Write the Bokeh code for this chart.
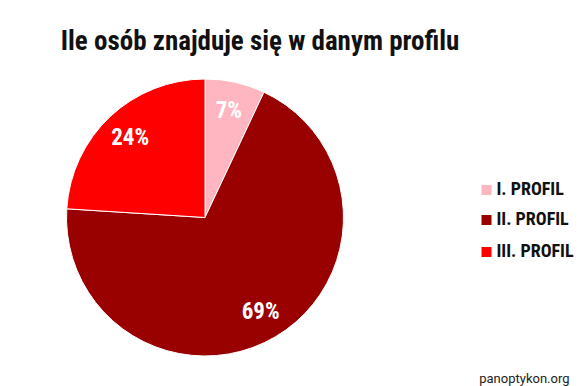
import math
from bokeh.plotting import figure
from bokeh.models import Range1d, ColumnDataSource
from bokeh.core.properties import value
from bokeh.embed import file_html
from bokeh.resources import INLINE

# ---- data ----
title_text = "Ile osób znajduje się w danym profilu"
categories = ["I. PROFIL", "II. PROFIL", "III. PROFIL"]
percents = [7, 69, 24]
colors = ["#FFB6C1", "#990000", "#FF0000"]
credit = "panoptykon.org"

W, H = 583, 386
p = figure(width=W, height=H, output_backend="svg", toolbar_location=None,
           x_range=Range1d(0, W), y_range=Range1d(0, H), min_border=0,
           outline_line_color=None, background_fill_color="white")
p.axis.visible = False
p.grid.visible = False

cx, cy, r = 204.5, H - 217, 138.5
total = sum(percents)
starts, ends, lx, ly, labels = [], [], [], [], []
acc = 0.0
for v in percents:
    a0 = math.pi / 2 - 2 * math.pi * acc / total
    a1 = math.pi / 2 - 2 * math.pi * (acc + v) / total
    starts.append(a0)
    ends.append(a1)
    mid = (a0 + a1) / 2
    lx.append(cx + 0.79 * r * math.cos(mid))
    ly.append(cy + 0.79 * r * math.sin(mid))
    labels.append(f"{v}%")
    acc += v

src = ColumnDataSource(dict(start=starts, end=ends, color=colors,
                            lx=lx, ly=ly, label=labels))
p.wedge(x=cx, y=cy, radius=r, start_angle="start", end_angle="end",
        direction="clock", fill_color="color", line_color="white",
        line_width=1, source=src)

p.text(x="lx", y="ly", text="label", source=src, text_color="white",
       text_font=value("Roboto Condensed"), text_font_style="bold",
       text_font_size="23px", text_align="center", text_baseline="middle")

# title
p.text(x=[259.5], y=[H - 40], text=[title_text], text_color="#111111",
       text_font=value("Roboto Condensed"),
       text_font_style="bold", text_font_size="27px",
       text_align="center", text_baseline="alphabetic")

# legend
leg_y = [H - 188, H - 218, H - 250]
p.rect(x=[486] * 3, y=[yy - 1.5 for yy in leg_y], width=10, height=10,
       fill_color=colors, line_color=None)
p.text(x=[496] * 3, y=leg_y, text=categories, text_color="#111111",
       text_font=value("Roboto Condensed"),
       text_font_style="bold", text_font_size="18px",
       text_align="left", text_baseline="middle")

# credit
p.text(x=[569], y=[H - 377.5], text=[credit], text_color="#222222",
       text_font=value("Roboto"), text_font_size="13px",
       text_align="right", text_baseline="alphabetic")

open("out.html", "w").write(file_html(p, INLINE))
